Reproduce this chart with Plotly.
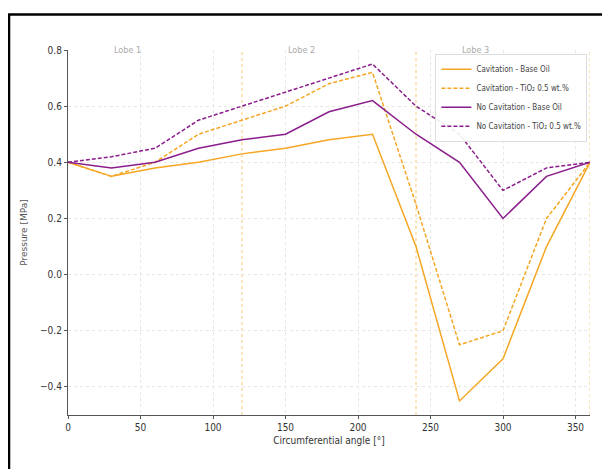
import plotly.graph_objects as go

angles = [0, 30, 60, 90, 120, 150, 180, 210, 240, 270, 300, 330, 360]
cav_base = [0.40, 0.35, 0.38, 0.40, 0.43, 0.45, 0.48, 0.50, 0.10, -0.45, -0.30, 0.10, 0.40]
cav_tio2 = [0.40, 0.35, 0.40, 0.50, 0.55, 0.60, 0.68, 0.72, 0.25, -0.25, -0.20, 0.20, 0.40]
nocav_base = [0.40, 0.38, 0.40, 0.45, 0.48, 0.50, 0.58, 0.62, 0.50, 0.40, 0.20, 0.35, 0.40]
nocav_tio2 = [0.40, 0.42, 0.45, 0.55, 0.60, 0.65, 0.70, 0.75, 0.60, 0.50, 0.30, 0.38, 0.40]

lobe_bounds = [120, 240, 360]
lobe_labels = ["Lobe 1", "Lobe 2", "Lobe 3"]
lobe_label_x = [30, 150, 270]

ORANGE = "#F5A623"
PURPLE = "#8B1C8B"
FONT = "DejaVu Sans Condensed, sans-serif"

fig = go.Figure()
series = [
    ("Cavitation - Base Oil", cav_base, ORANGE, "solid"),
    ("Cavitation - TiO₂ 0.5 wt.%", cav_tio2, ORANGE, "4px,2px"),
    ("No Cavitation - Base Oil", nocav_base, PURPLE, "solid"),
    ("No Cavitation - TiO₂ 0.5 wt.%", nocav_tio2, PURPLE, "4px,2px"),
]
for name, vals, col, dash in series:
    fig.add_trace(go.Scatter(x=angles, y=vals, mode="lines", name=name,
                             line=dict(color=col, width=1.5, dash=dash)))

for b in lobe_bounds:
    fig.add_shape(type="line", xref="x", yref="paper", x0=b, x1=b, y0=0, y1=1,
                  line=dict(color=ORANGE, width=1, dash="dot"), opacity=0.6, layer="below")

for lab, lx in zip(lobe_labels, lobe_label_x):
    fig.add_annotation(x=lx, y=0.8, xref="x", yref="y", text=lab, showarrow=False,
                       xanchor="left", yanchor="middle",
                       font=dict(family=FONT, size=9, color="#AAAAAA"))

# outer black frame
fig.add_shape(type="rect", xref="paper", yref="paper",
              x0=-0.113, x1=1.06, y0=-0.17, y1=1.097,
              line=dict(color="black", width=2.5), fillcolor="rgba(0,0,0,0)")

fig.update_layout(
    width=602, height=461,
    margin=dict(l=60, r=20, t=42, b=54),
    paper_bgcolor="white", plot_bgcolor="white",
    font=dict(family=FONT, size=10, color="#333333"),
    legend=dict(x=0.995, y=0.99, xanchor="right", yanchor="top",
                bgcolor="rgba(255,255,255,0.9)", bordercolor="#DDDDDD", borderwidth=1,
                font=dict(family=FONT, size=8, color="#444444"),
                tracegroupgap=0, itemwidth=30),
    showlegend=True,
)
fig.update_xaxes(range=[0, 360], tickvals=[0, 50, 100, 150, 200, 250, 300, 350],
                 showgrid=True, gridcolor="#E6E6E6", griddash="dot", gridwidth=1,
                 showline=True, linecolor="#555555", linewidth=1.2,
                 ticks="outside", ticklen=3, tickcolor="#555555",
                 zeroline=False, tickfont=dict(size=10, color="#333333"),
                 title=dict(text="Circumferential angle [°]", standoff=4,
                            font=dict(family=FONT, size=10, color="#333333")))
fig.update_yaxes(range=[-0.5, 0.8], tickvals=[-0.4, -0.2, 0.0, 0.2, 0.4, 0.6, 0.8],
                 tickformat=".1f",
                 showgrid=True, gridcolor="#E6E6E6", griddash="dot", gridwidth=1,
                 showline=True, linecolor="#555555", linewidth=1.2,
                 ticks="outside", ticklen=3, tickcolor="#555555",
                 zeroline=False, tickfont=dict(size=10, color="#333333"),
                 title=dict(text="Pressure [MPa]", standoff=10,
                            font=dict(family="DejaVu Sans", size=9, color="#555555")))

fig.write_html("out.html")
